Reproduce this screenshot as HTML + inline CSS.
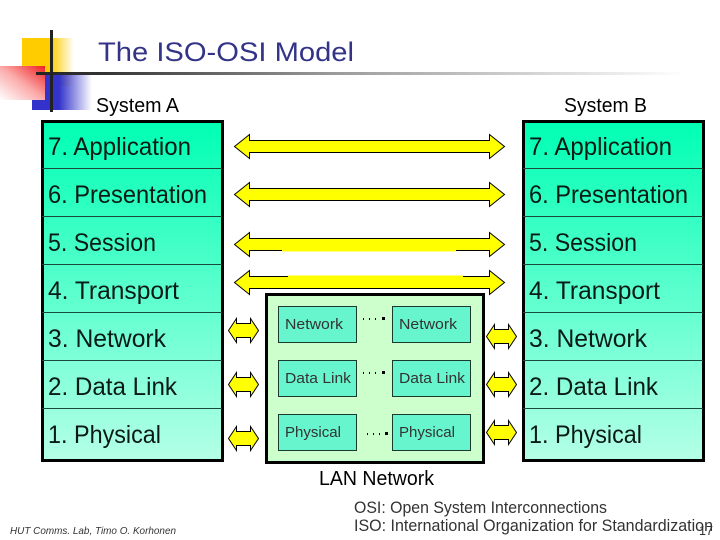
<!DOCTYPE html>
<html><head><meta charset="utf-8"><title>The ISO-OSI Model</title>
<style>html,body{margin:0;padding:0;background:#fff;width:720px;height:540px;overflow:hidden}svg{display:block}text{font-family:"Liberation Sans",sans-serif}</style></head>
<body>
<svg width="720" height="540" viewBox="0 0 720 540" xmlns="http://www.w3.org/2000/svg">
<defs>
<linearGradient id="yg" x1="0" x2="1" y1="0" y2="0"><stop offset="0" stop-color="#ffcc00"/><stop offset=".55" stop-color="#ffcc00"/><stop offset="1" stop-color="#ffcc00" stop-opacity="0"/></linearGradient>
<linearGradient id="bg" x1="0" x2="1" y1="0" y2="0"><stop offset="0" stop-color="#3333cc"/><stop offset=".45" stop-color="#3333cc"/><stop offset="1" stop-color="#3333cc" stop-opacity="0"/></linearGradient>
<linearGradient id="rg" x1="1" x2="0" y1="0" y2="1"><stop offset="0" stop-color="#f02020"/><stop offset=".5" stop-color="#fbaaaa"/><stop offset="1" stop-color="#ffffff"/></linearGradient>
<linearGradient id="lg" x1="0" x2="1" y1="0" y2="0"><stop offset="0" stop-color="#222"/><stop offset=".1" stop-color="#333"/><stop offset=".45" stop-color="#999"/><stop offset="1" stop-color="#fff"/></linearGradient>
<linearGradient id="st" x1="0" x2="0" y1="0" y2="1"><stop offset="0" stop-color="#00ffb4"/><stop offset="1" stop-color="#b4ffe6"/></linearGradient>
</defs>
<rect x="22" y="38" width="52" height="48" fill="url(#yg)"/>
<rect x="32" y="73" width="60" height="37" fill="url(#bg)"/>
<rect x="0" y="66" width="45" height="34" fill="url(#rg)"/>
<rect x="36" y="72" width="650" height="3" fill="url(#lg)"/>
<rect x="50" y="30" width="3" height="82" fill="#222"/>
<text x="98" y="61" font-size="27" fill="#333388" textLength="256" lengthAdjust="spacingAndGlyphs">The ISO-OSI Model</text>
<text x="96" y="112" font-size="20" textLength="83" lengthAdjust="spacingAndGlyphs">System A</text>
<text x="564" y="112" font-size="20" textLength="83" lengthAdjust="spacingAndGlyphs">System B</text>

<g id="stacks" stroke="#000">
<rect x="42.5" y="121.5" width="180" height="339" fill="url(#st)" stroke-width="3"/>
<path d="M42 168.5H222M42 216.5H222M42 264.5H222M42 312.5H222M42 360.5H222M42 408.5H222" stroke="#1a4a3a" stroke-width="1" fill="none"/>
<rect x="523.5" y="121.5" width="180" height="339" fill="url(#st)" stroke-width="3"/>
<path d="M523 168.5H703M523 216.5H703M523 264.5H703M523 312.5H703M523 360.5H703M523 408.5H703" stroke="#1a4a3a" stroke-width="1" fill="none"/>
</g>
<g font-size="25" fill="#0a1a14">
<text x="48" y="155" textLength="143" lengthAdjust="spacingAndGlyphs">7. Application</text>
<text x="48" y="203" textLength="159" lengthAdjust="spacingAndGlyphs">6. Presentation</text>
<text x="48" y="251" textLength="108" lengthAdjust="spacingAndGlyphs">5. Session</text>
<text x="48" y="299" textLength="131" lengthAdjust="spacingAndGlyphs">4. Transport</text>
<text x="48" y="347" textLength="118" lengthAdjust="spacingAndGlyphs">3. Network</text>
<text x="48" y="395" textLength="129" lengthAdjust="spacingAndGlyphs">2. Data Link</text>
<text x="48" y="443" textLength="113" lengthAdjust="spacingAndGlyphs">1. Physical</text>
<text x="529" y="155" textLength="143" lengthAdjust="spacingAndGlyphs">7. Application</text>
<text x="529" y="203" textLength="159" lengthAdjust="spacingAndGlyphs">6. Presentation</text>
<text x="529" y="251" textLength="108" lengthAdjust="spacingAndGlyphs">5. Session</text>
<text x="529" y="299" textLength="131" lengthAdjust="spacingAndGlyphs">4. Transport</text>
<text x="529" y="347" textLength="118" lengthAdjust="spacingAndGlyphs">3. Network</text>
<text x="529" y="395" textLength="129" lengthAdjust="spacingAndGlyphs">2. Data Link</text>
<text x="529" y="443" textLength="113" lengthAdjust="spacingAndGlyphs">1. Physical</text>
</g>

<g fill="#ffff00" stroke="#000" stroke-width="1">
<path d="M234.5 146.5L249.5 134.5V140.5H489.5V134.5L504.5 146.5L489.5 158.5V152.5H249.5V158.5Z"/>
<path d="M234.5 194.5L249.5 182.5V188.5H489.5V182.5L504.5 194.5L489.5 206.5V200.5H249.5V206.5Z"/>
<path d="M234.5 244.5L249.5 232.5V238.5H489.5V232.5L504.5 244.5L489.5 256.5V250.5H249.5V256.5Z"/>
<path d="M234.5 282.5L249.5 270.5V276.5H489.5V270.5L504.5 282.5L489.5 294.5V288.5H249.5V294.5Z"/>
</g>
<rect x="282" y="250" width="174" height="1.5" fill="#ffff00"/>
<rect x="288" y="275.5" width="175" height="1.5" fill="#ffff00"/>
<rect x="284" y="251.5" width="172" height="18" fill="#fff"/>

<g fill="#ffff00" stroke="#000" stroke-width="1">
<path d="M228.5 330.5L236.5 318.5V323.5H250.5V318.5L258.5 330.5L250.5 342.5V337.5H236.5V342.5Z"/>
<path d="M228.5 384.5L236.5 372.5V377.5H250.5V372.5L258.5 384.5L250.5 396.5V391.5H236.5V396.5Z"/>
<path d="M228.5 438.5L236.5 426.5V431.5H250.5V426.5L258.5 438.5L250.5 450.5V445.5H236.5V450.5Z"/>
<path d="M486.5 336.5L494.5 324.5V329.5H508.5V324.5L516.5 336.5L508.5 348.5V343.5H494.5V348.5Z"/>
<path d="M486.5 384.5L494.5 372.5V377.5H508.5V372.5L516.5 384.5L508.5 396.5V391.5H494.5V396.5Z"/>
<path d="M486.5 432.5L494.5 420.5V425.5H508.5V420.5L516.5 432.5L508.5 444.5V439.5H494.5V444.5Z"/>
</g>

<rect x="266.5" y="294.5" width="217" height="168" fill="#ccffcc" stroke="#000" stroke-width="3"/>
<g fill="#66f5cc" stroke="#1a3a30" stroke-width="1">
<rect x="278.5" y="306.5" width="78" height="36"/>
<rect x="392.5" y="306.5" width="78" height="36"/>
<rect x="278.5" y="360.5" width="78" height="36"/>
<rect x="392.5" y="360.5" width="78" height="36"/>
<rect x="278.5" y="414.5" width="78" height="36"/>
<rect x="392.5" y="414.5" width="78" height="36"/>
</g>
<g font-size="15" fill="#333">
<text x="285" y="329" textLength="58" lengthAdjust="spacingAndGlyphs">Network</text>
<text x="399" y="329" textLength="58" lengthAdjust="spacingAndGlyphs">Network</text>
<text x="285" y="383" textLength="66" lengthAdjust="spacingAndGlyphs">Data Link</text>
<text x="399" y="383" textLength="66" lengthAdjust="spacingAndGlyphs">Data Link</text>
<text x="285" y="437" textLength="56" lengthAdjust="spacingAndGlyphs">Physical</text>
<text x="399" y="437" textLength="56" lengthAdjust="spacingAndGlyphs">Physical</text>
</g>
<g fill="#000">
<rect x="363" y="318" width="1" height="2"/><rect x="369" y="318" width="1" height="2"/><rect x="375" y="318" width="1" height="2"/><rect x="382" y="317" width="3" height="3"/>
<rect x="363" y="372" width="1" height="2"/><rect x="369" y="372" width="1" height="2"/><rect x="375" y="372" width="1" height="2"/><rect x="382" y="371" width="3" height="3"/>
<rect x="367" y="433" width="1" height="2"/><rect x="373" y="433" width="1" height="2"/><rect x="379" y="433" width="1" height="2"/><rect x="385" y="432" width="3" height="3"/>
</g>

<text x="319" y="485" font-size="20" textLength="115" lengthAdjust="spacingAndGlyphs">LAN Network</text>
<text x="354" y="513" font-size="16.5" fill="#333" textLength="253" lengthAdjust="spacingAndGlyphs">OSI: Open System Interconnections</text>
<text x="354" y="531" font-size="16.5" fill="#333" textLength="359" lengthAdjust="spacingAndGlyphs">ISO: International Organization for Standardization</text>
<text x="10" y="534" font-size="10.5" font-style="italic" fill="#333" textLength="166" lengthAdjust="spacingAndGlyphs">HUT Comms. Lab, Timo O. Korhonen</text>
<text x="699" y="535" font-size="13" fill="#333" textLength="14" lengthAdjust="spacingAndGlyphs">17</text>
</svg>
</body></html>
